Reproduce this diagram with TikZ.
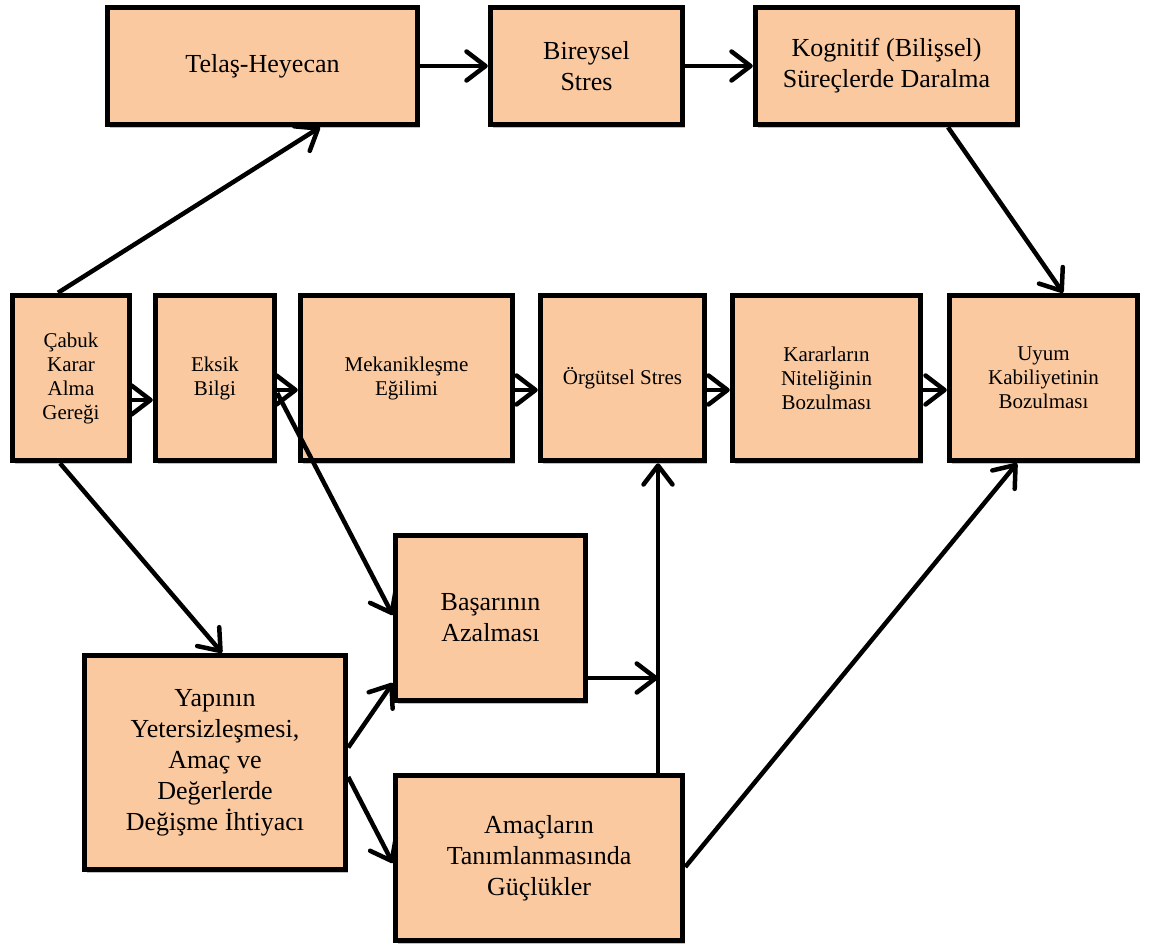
\documentclass[tikz,border=0pt]{standalone}
\usepackage{fontspec}
\setmainfont{Liberation Serif}
\usetikzlibrary{arrows.meta}
\usetikzlibrary{shadows}
\definecolor{peach}{RGB}{250,201,160}
\newcommand{\bigtxt}{\fontsize{26}{31}\selectfont}
\newcommand{\smalltxt}{\fontsize{21}{24}\selectfont}

\begin{document}
\begin{tikzpicture}[x = 1pt, y = -1pt,
  box/.style = {draw, line width = 5.5pt, fill = peach, align = center, inner sep = 2pt,
    drop shadow = {shadow xshift = 2pt, shadow yshift = -3.5pt, opacity = 0.35, fill = black!70}},
  bigbox/.style = {box, font = \bigtxt},
  smallbox/.style = {box, font = \smalltxt, minimum height = 165pt},
  arr/.style = {line width = 4.5pt, -{Straight Barb[length = 19pt, width = 29pt, round]}}]
\useasboundingbox (0,0) rectangle (1149,952);
\node[bigbox, minimum width = 310pt, minimum height = 117pt] (tel) at (262.5,66) {Telaş-Heyecan};
\node[bigbox, minimum width = 192pt, minimum height = 117pt] (bir) at (586.5,66) {Bireysel\\Stres};
\node[bigbox, minimum width = 262pt, minimum height = 117pt] (kog) at (886.5,66) {Kognitif (Bilişsel)\\Süreçlerde Daralma};
\node[smallbox, minimum width = 117pt] (cab) at (71,378) {Çabuk\\Karar\\Alma\\Gereği};
\node[smallbox, minimum width = 119pt] (eks) at (215,378) {Eksik\\Bilgi};
\node[smallbox, minimum width = 212pt] (mek) at (406.5,378) {Mekanikleşme\\Eğilimi};
\node[smallbox, minimum width = 164pt] (org) at (622.5,378) {Örgütsel Stres};
\node[smallbox, minimum width = 188pt] (kar) at (826.5,378) {Kararların\\Niteliğinin\\Bozulması};
\node[smallbox, minimum width = 188pt] (uyu) at (1043.5,378) {Uyum\\Kabiliyetinin\\Bozulması};
\node[bigbox, minimum width = 190pt, minimum height = 165pt] (bas) at (490.5,618) {Başarının\\Azalması};
\node[bigbox, minimum width = 261pt, minimum height = 214pt] (yap) at (215,762.5) {Yapının\\Yetersizleşmesi,\\Amaç ve\\Değerlerde\\Değişme İhtiyacı};
\node[bigbox, minimum width = 287pt, minimum height = 165pt] (ama) at (539,858) {Amaçların\\Tanımlanmasında\\Güçlükler};
\coordinate (bot) at ([xshift = 119pt]ama.north);
\coordinate (top) at ([xshift = 35.5pt]org.south);
\coordinate (bo) at ([yshift = -60pt]bas.east);
\draw[arr] ([xshift = -13pt]cab.north) -- ([xshift = 57.5pt]tel.south);
\draw[arr] (tel.east) -- (bir.west);
\draw[arr] (bir.east) -- (kog.west);
\draw[arr] ([xshift = 61.5pt]kog.south) -- ([xshift = 19.5pt]uyu.north);
\draw[arr] ([yshift = -22pt]cab.east) -- ([yshift = -22pt]eks.west);
\draw[arr] ([yshift = -12pt]eks.east) -- ([yshift = -12pt]mek.west);
\draw[arr] ([yshift = -12pt]mek.east) -- ([yshift = -12pt]org.west);
\draw[arr] ([yshift = -12pt]org.east) -- ([yshift = -12pt]kar.west);
\draw[arr] ([yshift = -12pt]kar.east) -- ([yshift = -12pt]uyu.west);
\draw[arr] ([xshift = -11pt]cab.south) -- ([xshift = 7pt]yap.north);
\draw[arr] ([yshift = -15pt]eks.east) -- ([yshift = 3pt]bas.west);
\draw[arr] ([yshift = 15pt]yap.east) -- ([yshift = -65pt]bas.west);
\draw[arr] ([yshift = -14.5pt]yap.east) -- ([yshift = -5pt]ama.west);
\draw[arr] (bo) -- (bo -| bot);
\draw[arr] (bot) -- (top);
\draw[arr] ([yshift = -9pt]ama.east) -- ([xshift = -26.5pt]uyu.south);
\end{tikzpicture}
\end{document}
